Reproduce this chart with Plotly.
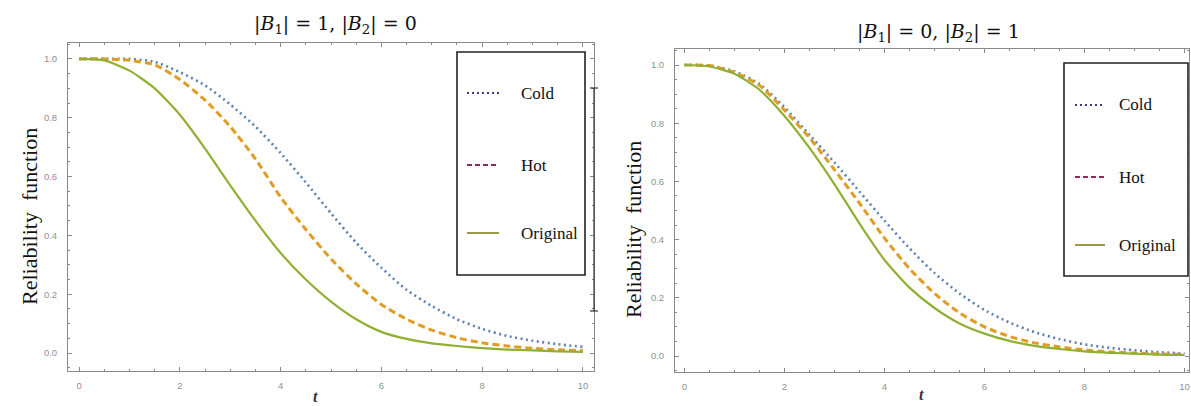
import plotly.graph_objects as go

W, H = 1191, 406

t = [0, 0.5, 1, 1.5, 2, 2.5, 3, 3.5, 4, 4.5, 5, 5.5, 6, 6.5, 7, 7.5, 8, 8.5, 9, 9.5, 10]

# Left panel: |B1|=1, |B2|=0
cold_1 = [1.0, 1.0, 1.0, 0.99, 0.955, 0.91, 0.845, 0.77, 0.68, 0.58, 0.475, 0.375,
          0.29, 0.215, 0.16, 0.115, 0.082, 0.058, 0.042, 0.030, 0.021]
hot_1 = [1.0, 1.0, 0.995, 0.98, 0.93, 0.86, 0.77, 0.66, 0.53, 0.42, 0.32, 0.235,
         0.165, 0.115, 0.078, 0.052, 0.035, 0.024, 0.016, 0.011, 0.008]
orig_1 = [1.0, 0.995, 0.96, 0.90, 0.81, 0.695, 0.57, 0.45, 0.34, 0.25, 0.175, 0.115,
          0.072, 0.048, 0.033, 0.024, 0.017, 0.012, 0.009, 0.006, 0.004]

# Right panel: |B1|=0, |B2|=1
cold_2 = [1.0, 0.998, 0.978, 0.935, 0.855, 0.76, 0.665, 0.565, 0.465, 0.37, 0.285, 0.215,
          0.158, 0.115, 0.082, 0.058, 0.040, 0.028, 0.020, 0.013, 0.009]
hot_2 = [1.0, 0.998, 0.975, 0.93, 0.845, 0.75, 0.64, 0.525, 0.405, 0.30, 0.215, 0.148,
         0.10, 0.067, 0.045, 0.031, 0.021, 0.014, 0.010, 0.007, 0.005]
orig_2 = [1.0, 0.995, 0.97, 0.915, 0.825, 0.715, 0.59, 0.455, 0.33, 0.235, 0.165, 0.112,
          0.077, 0.052, 0.035, 0.024, 0.016, 0.011, 0.008, 0.005, 0.004]

series_names = ["Cold", "Hot", "Original"]
titles = ["|<i>B</i><sub>1</sub>| = 1, |<i>B</i><sub>2</sub>| = 0",
          "|<i>B</i><sub>1</sub>| = 0, |<i>B</i><sub>2</sub>| = 1"]
x_ticks = [0, 2, 4, 6, 8, 10]
y_ticks = [0.0, 0.2, 0.4, 0.6, 0.8, 1.0]
y_ticklabels = ["0.0", "0.2", "0.4", "0.6", "0.8", "1.0"]

line_styles = [
    dict(color="#5E81B5", width=2.6, dash="2px,3.5px"),
    dict(color="#E19C24", width=3, dash="7px,4px"),
    dict(color="#8FB032", width=2.2, dash="solid"),
]
legend_styles = [
    dict(color="#3b3b8c", width=2, dash="2px,3px"),
    dict(color="#8c2a5c", width=2, dash="5px,3px"),
    dict(color="#9c9a48", width=2, dash="solid"),
]


def px(x):
    return x / W


def py(y):
    return 1 - y / H


fig = go.Figure()

panels = [
    dict(data=[cold_1, hot_1, orig_1], xa="x", ya="y",
         xdom=[68, 594], ydom=[43, 371], xr=[-0.22, 10.22], yr=[-0.061, 1.054]),
    dict(data=[cold_2, hot_2, orig_2], xa="x2", ya="y2",
         xdom=[675, 1189], ydom=[49, 372], xr=[-0.19, 10.09], yr=[-0.055, 1.055]),
]

for p in panels:
    for name, vals, st in zip(series_names, p["data"], line_styles):
        fig.add_trace(go.Scatter(x=t, y=vals, name=name, mode="lines",
                                 line=dict(shape="spline", smoothing=0.6, **st),
                                 xaxis=p["xa"], yaxis=p["ya"], showlegend=False))

axis_common = dict(showgrid=False, zeroline=False, showline=True, linecolor="#8a8a8a",
                   linewidth=1, mirror="ticks", ticks="inside", ticklen=4, tickcolor="#8a8a8a",
                   tickfont=dict(family="Liberation Sans, Arial", size=9.5, color="#8f8f8f"))

layout_axes = {}
for i, p in enumerate(panels):
    sx = "" if i == 0 else "2"
    layout_axes["xaxis" + sx] = dict(
        domain=[px(p["xdom"][0]), px(p["xdom"][1])], range=p["xr"], anchor="y" + sx,
        tickvals=x_ticks, ticktext=[str(v) for v in x_ticks], ticklabelstandoff=6,
        minor=dict(dtick=0.5, tick0=0, ticks="inside", ticklen=2, tickcolor="#8a8a8a"),
        **axis_common)
    layout_axes["yaxis" + sx] = dict(
        domain=[py(p["ydom"][1]), py(p["ydom"][0])], range=p["yr"], anchor="x" + sx,
        tickvals=y_ticks, ticktext=y_ticklabels, ticklabelstandoff=8,
        minor=dict(dtick=0.05, tick0=0, ticks="inside", ticklen=2, tickcolor="#8a8a8a"),
        **axis_common)

fig.update_layout(width=W, height=H, margin=dict(l=0, r=0, t=0, b=0),
                  paper_bgcolor="white", plot_bgcolor="white", showlegend=False,
                  **layout_axes)

annotations = []
shapes = []

# Titles
for tx, (cx, cy) in zip(titles, [(335, 25), (938, 33)]):
    annotations.append(dict(text=tx, x=px(cx), y=py(cy), xref="paper", yref="paper",
                            showarrow=False, xanchor="center", yanchor="middle",
                            font=dict(family="DejaVu Serif", size=19, color="#111")))

# Y axis titles
for cx, cy in [(30, 217), (633, 230)]:
    annotations.append(dict(text="Reliability  function", x=px(cx), y=py(cy), xref="paper",
                            yref="paper", showarrow=False, textangle=-90,
                            xanchor="center", yanchor="middle",
                            font=dict(family="Liberation Serif, Times New Roman", size=22,
                                      color="#111")))

# X axis titles
for cx, cy in [(315, 396), (921, 394)]:
    annotations.append(dict(text="<i><b>t</b></i>", x=px(cx), y=py(cy), xref="paper",
                            yref="paper", showarrow=False, xanchor="center", yanchor="middle",
                            font=dict(family="Liberation Serif, Times New Roman", size=16,
                                      color="#333")))

# Manual legends
legends = [
    dict(box=(457, 52, 585, 275), line_x=(467, 499), text_x=519, ys=(93, 165, 233)),
    dict(box=(1064, 63, 1188, 276), line_x=(1075, 1105), text_x=1117, ys=(105, 177, 245)),
]
for lg in legends:
    x0, y0, x1, y1 = lg["box"]
    shapes.append(dict(type="rect", xref="paper", yref="paper", x0=px(x0), y0=py(y0),
                       x1=px(x1), y1=py(y1), line=dict(color="#222", width=1.6),
                       fillcolor="white", layer="above"))
    for name, yy, st in zip(series_names, lg["ys"], legend_styles):
        shapes.append(dict(type="line", xref="paper", yref="paper",
                           x0=px(lg["line_x"][0]), x1=px(lg["line_x"][1]),
                           y0=py(yy), y1=py(yy), line=st, layer="above"))
        annotations.append(dict(text=name, x=px(lg["text_x"]), y=py(yy), xref="paper",
                                yref="paper", showarrow=False, xanchor="left",
                                yanchor="middle",
                                font=dict(family="Liberation Serif, Times New Roman",
                                          size=17, color="#111")))

# Dark bracket-like line at right of left panel
shapes.append(dict(type="line", xref="paper", yref="paper", x0=px(594), x1=px(594),
                   y0=py(88), y1=py(311), line=dict(color="#333", width=1.2), layer="above"))
for yy in (88, 311):
    shapes.append(dict(type="line", xref="paper", yref="paper", x0=px(590), x1=px(598),
                       y0=py(yy), y1=py(yy), line=dict(color="#333", width=1.2),
                       layer="above"))

fig.update_layout(annotations=annotations, shapes=shapes)
fig.write_html("out.html", config={"displayModeBar": False},
               post_script="document.body.style.margin='0px';document.body.style.padding='0px';")
